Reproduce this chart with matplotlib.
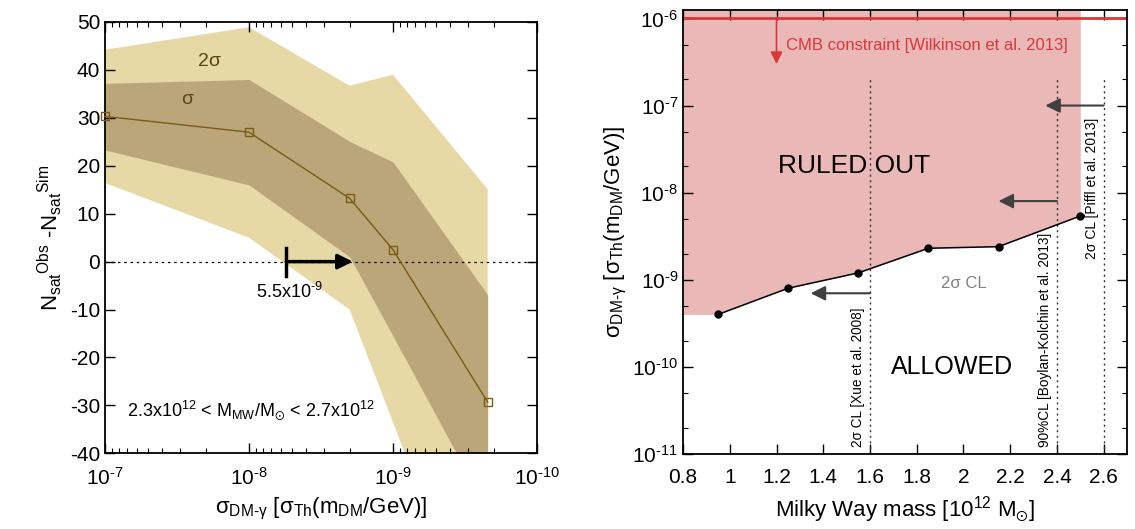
import matplotlib
matplotlib.use("Agg")
import matplotlib.pyplot as plt
import numpy as np
from matplotlib.ticker import LogLocator, NullFormatter, MultipleLocator, FuncFormatter

plt.rcParams['font.family'] = ['Liberation Sans', 'DejaVu Sans']
plt.rcParams['mathtext.fontset'] = 'custom'
plt.rcParams['mathtext.rm'] = 'Liberation Sans'
plt.rcParams['mathtext.it'] = 'Liberation Sans'
plt.rcParams['mathtext.default'] = 'regular'
plt.rcParams['axes.unicode_minus'] = False

# ---------- Left panel data ----------
sigma_dm = [1e-7, 1e-8, 2e-9, 1e-9, 2.2e-10]
dn_mean = [30.3, 27.0, 13.2, 2.5, -29.3]
dn_1s_hi = [37.2, 38.0, 25.1, 20.8, -6.9]
dn_1s_lo = [23.3, 16.0, 1.0, -15.5, -52.0]
dn_2s_hi = [44.2, 48.9, 36.7, 39.0, 15.1]
dn_2s_lo = [16.4, 5.0, -10.0, -33.5, -85.0]
sigma_limit = 5.5e-9

# ---------- Right panel data ----------
mw_mass = [0.95, 1.25, 1.55, 1.85, 2.15, 2.5]
sigma_max = [4.0e-10, 8.0e-10, 1.2e-9, 2.3e-9, 2.4e-9, 5.4e-9]
cmb_limit = 1e-6
mass_cl = [1.6, 2.4, 2.6]
cl_labels = ['2σ CL [Xue et al. 2008]', '90%CL [Boylan-Kolchin et al. 2013]',
             '2σ CL [Piffl et al. 2013]']

light = '#e6d9a6'
dark = '#bba67a'
brown = '#7a5a14'
pink = '#ebb8b8'
red = '#d9383a'
grey = '#404040'


def log_label(v, pos):
    e = int(round(np.log10(v)))
    if e < 0:
        return r'10$^{\text{-}%d}$' % abs(e)
    return r'10$^{%d}$' % e


fig = plt.figure(figsize=(11.35, 5.29), dpi=100)
ax1 = fig.add_axes([0.0925, 0.1430, 0.3806, 0.8155])
ax2 = fig.add_axes([0.6018, 0.1418, 0.3912, 0.8393])

# ---------- Left ----------
ax1.fill_between(sigma_dm, dn_2s_lo, dn_2s_hi, color=light, lw=0)
ax1.fill_between(sigma_dm, dn_1s_lo, dn_1s_hi, color=dark, lw=0)
ax1.plot(sigma_dm, dn_mean, color=brown, lw=1, marker='s', ms=5.5,
         mfc='none', mec=brown, mew=1, clip_on=False, zorder=5)
ax1.axhline(0, color='black', ls=(0, (2, 3)), lw=0.9)
ax1.set_xscale('log')
ax1.set_xlim(1e-7, 1e-10)
ax1.set_ylim(-40, 50)
ax1.yaxis.set_major_locator(MultipleLocator(10))
ax1.xaxis.set_major_locator(LogLocator(base=10))
ax1.xaxis.set_major_formatter(FuncFormatter(log_label))
ax1.xaxis.set_minor_locator(LogLocator(base=10, subs=range(2, 10)))
ax1.xaxis.set_minor_formatter(NullFormatter())

ax1.plot([sigma_limit, sigma_limit], [-2.9, 2.9], color='black', lw=2.5)
ax1.annotate('', xy=(1.9e-9, 0), xytext=(sigma_limit, 0),
             arrowprops=dict(arrowstyle='-|>', color='black', lw=2.5,
                             mutation_scale=22, shrinkA=0, shrinkB=0))
ax1.text(5.2e-9, -6.3, r'5.5x10$^{\text{-}9}$', fontsize=13, ha='center', va='center')
ax1.text(2.7e-8 * 0.7, 41.7, '2σ', fontsize=14, color='#5c4310', ha='center', va='center')
ax1.text(2.7e-8, 33.8, 'σ', fontsize=14, color='#5c4310', ha='center', va='center')
ax1.text(7e-8, -31, r'2.3x10$^{12}$ < M$_{MW}$/M$_{\odot}$ < 2.7x10$^{12}$',
         fontsize=13, ha='left', va='center')

ax1.set_xlabel(r'$σ_{DM\text{-}γ}$ [$σ_{Th}$($m_{DM}$/GeV)]', fontsize=16, labelpad=5)
ax1.set_ylabel(r'$N_{sat}{}^{Obs}$ -$N_{sat}{}^{Sim}$', fontsize=16, labelpad=4)

# ---------- Right ----------
ytop = 1.25e-6
fill_x = [0.8] + mw_mass
fill_y = [sigma_max[0]] + sigma_max
ax2.fill_between(fill_x, fill_y, ytop, color=pink, lw=0)
ax2.plot(mw_mass, sigma_max, color='black', lw=1.1, marker='o', ms=5, zorder=5)
ax2.axhline(cmb_limit, color=red, lw=2)
ax2.annotate('', xy=(1.2, 3e-7), xytext=(1.2, cmb_limit),
             arrowprops=dict(arrowstyle='-|>', color=red, lw=1.2,
                             mutation_scale=18, shrinkA=0, shrinkB=0))
ax2.text(1.24, 4.9e-7, 'CMB constraint [Wilkinson et al. 2013]', color=red,
         fontsize=12, ha='left', va='center')

for m in mass_cl:
    ax2.plot([m, m], [1e-11, 2e-7], color='#333333', ls=(0, (1.5, 2.5)), lw=1)

ax2.text(1.55, 1.2e-11, cl_labels[0], rotation=90, fontsize=9.8, ha='center', va='bottom')
ax2.text(2.35, 1.2e-11, cl_labels[1], rotation=90, fontsize=9.8, ha='center', va='bottom')
ax2.text(2.55, 7.3e-8, cl_labels[2], rotation=90, fontsize=10, ha='center', va='top')

arrow_kw = dict(arrowstyle='-|>', color=grey, lw=1.5, mutation_scale=22,
                shrinkA=0, shrinkB=0)
ax2.annotate('', xy=(2.35, 1e-7), xytext=(2.6, 1e-7), arrowprops=arrow_kw)
ax2.annotate('', xy=(2.15, 8e-9), xytext=(2.4, 8e-9), arrowprops=arrow_kw)
ax2.annotate('', xy=(1.346, 7e-10), xytext=(1.6, 7e-10), arrowprops=arrow_kw)

ax2.text(1.53, 2e-8, 'RULED OUT', fontsize=19, ha='center', va='center')
ax2.text(1.95, 1e-10, 'ALLOWED', fontsize=18, ha='center', va='center')
ax2.text(2.0, 9e-10, '2σ CL', fontsize=12, color='#808080', ha='center', va='center')

ax2.set_yscale('log')
ax2.set_xlim(0.8, 2.7)
ax2.set_ylim(1e-11, ytop)
ax2.set_xticks([0.8, 1.0, 1.2, 1.4, 1.6, 1.8, 2.0, 2.2, 2.4, 2.6])
ax2.set_xticklabels(['0.8', '1', '1.2', '1.4', '1.6', '1.8', '2', '2.2', '2.4', '2.6'])
ax2.yaxis.set_major_locator(LogLocator(base=10, numticks=12))
ax2.yaxis.set_major_formatter(FuncFormatter(log_label))
ax2.yaxis.set_minor_locator(LogLocator(base=10, subs=(2, 5), numticks=12))
ax2.yaxis.set_minor_formatter(NullFormatter())
ax2.set_xlabel(r'Milky Way mass [10$^{12}$ M$_{\odot}$]', fontsize=16, labelpad=5)
ax2.set_ylabel(r'$σ_{DM\text{-}γ}$ [$σ_{Th}$($m_{DM}$/GeV)]', fontsize=16, labelpad=2)

for ax in (ax1, ax2):
    ax.tick_params(which='both', direction='in', top=True, right=True, labelsize=15)
    ax.tick_params(which='major', length=7, width=1)
    ax.tick_params(which='minor', length=3.5, width=0.8)
    ax.tick_params(axis='x', pad=10)
    for s in ax.spines.values():
        s.set_linewidth(1.3)

fig.savefig('out.png', dpi=100)
